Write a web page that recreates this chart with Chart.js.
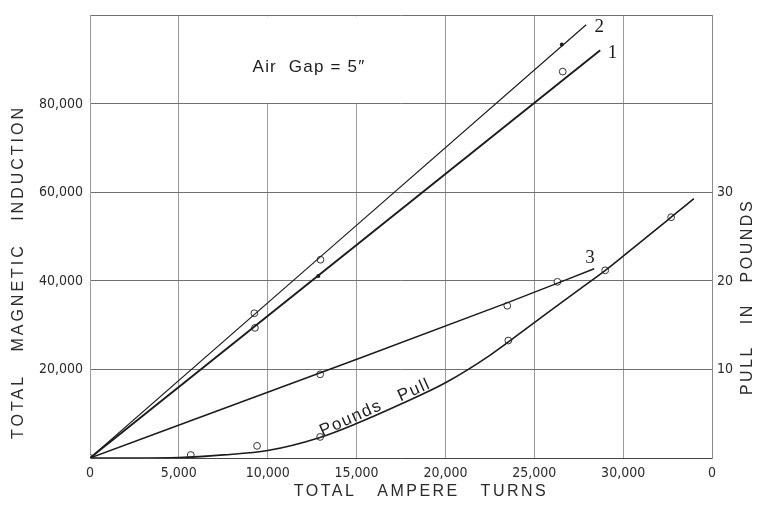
<!DOCTYPE html>
<html>
<head>
<meta charset="utf-8">
<script src="https://cdn.jsdelivr.net/npm/chart.js@4.4.1/dist/chart.umd.min.js"></script>
<style>
  html, body { margin: 0; padding: 0; background: #ffffff; }
  #wrap { width: 757px; height: 506px; }
</style>
</head>
<body>
<div id="wrap"><canvas id="c" width="757" height="506"></canvas></div>
<script>
// Axis ticks
const xTickValues = [0, 5000, 10000, 15000, 20000, 25000, 30000, 35000];
const xTickLabels = ['0', '5,000', '10,000', '15,000', '20,000', '25,000', '30,000', '0'];
const yTickValues = [0, 20000, 40000, 60000, 80000, 100000];
const yTickLabels = ['', '20,000', '40,000', '60,000', '80,000', ''];
const pullTickValues = [10, 20, 30];
const pullTickLabels = ['10', '20', '30'];

// Curve 1: total induction vs ampere turns (drawn line and observations)
const curve1X = [0, 28710];
const curve1Y = [0, 92100];
const obs1X = [0, 9280, 26600];
const obs1Y = [0, 29400, 87300];

// Curve 2
const curve2X = [0, 27920];
const curve2Y = [0, 97900];
const obs2X = [9250, 12970];
const obs2Y = [32700, 44800];

// Solid dots on curves 1 and 2
const dotX = [12850, 26550];
const dotY = [41100, 93450];

// Curve 3
const curve3X = [0, 13000, 23500, 28370];
const curve3Y = [0, 19300, 35100, 42770];
const obs3X = [12950, 23480, 26300];
const obs3Y = [18900, 34400, 39800];

// Pull in pounds
const pullX = [0, 2500, 5000, 7500, 10000, 12900, 15000, 17500, 20000, 22500, 25000, 27500, 29000, 30000, 32700, 33980];
const pullLb = [0, 0, 0.05, 0.35, 0.85, 2.3, 3.9, 6.1, 8.5, 11.6, 15.3, 19.0, 21.2, 22.8, 27.2, 29.3];
const obsPullX = [5670, 9400, 12950, 23540, 28990, 32700];
const obsPullLb = [0.34, 1.37, 2.38, 13.27, 21.2, 27.2];

const pts = (xs, ys) => xs.map((x, i) => ({ x: x, y: ys[i] }));

const INK = '#1c1c1c';
const tickFont = { family: '"DejaVu Sans Condensed", "Liberation Sans Narrow", "Liberation Sans", sans-serif', size: 14 };

function lineSet(data, width, axis) {
  return {
    data: data, yAxisID: axis || 'y', showLine: true,
    borderColor: INK, borderWidth: width, pointRadius: 0,
    cubicInterpolationMode: 'monotone', fill: false
  };
}
function ringSet(data, axis) {
  return {
    data: data, yAxisID: axis || 'y', showLine: false,
    pointRadius: 3.4, pointBorderWidth: 1, pointBorderColor: '#333',
    pointBackgroundColor: '#ffffff'
  };
}

// White panel behind the air-gap note
const notePanel = {
  id: 'notePanel',
  beforeDatasetsDraw(chart, args, o) {
    const x = chart.scales.x, y = chart.scales.y, ctx = chart.ctx;
    const l = x.getPixelForValue(o.x0) + 1, r = x.getPixelForValue(o.x1) - 1;
    const t = y.getPixelForValue(o.y1) + 1, b = y.getPixelForValue(o.y0) - 1;
    ctx.save();
    ctx.fillStyle = '#ffffff';
    ctx.fillRect(l, t, r - l, b - t);
    ctx.restore();
  }
};

// Text placed in data coordinates (curve numbers, notes)
const chartText = {
  id: 'chartText',
  afterDraw(chart, args, o) {
    const ctx = chart.ctx;
    o.items.forEach(t => {
      const sx = chart.scales.x, sy = chart.scales[t.axis || 'y'];
      const px = sx.getPixelForValue(t.x), py = sy.getPixelForValue(t.y);
      ctx.save();
      ctx.font = t.font;
      ctx.fillStyle = INK;
      ctx.letterSpacing = (t.spacing || 0) + 'px';
      ctx.textAlign = t.align || 'center';
      ctx.textBaseline = 'middle';
      ctx.translate(px, py);
      ctx.rotate((t.rot || 0) * Math.PI / 180);
      ctx.fillText(t.text, 0, 0);
      ctx.restore();
    });
  }
};

// Letter-spaced axis titles
const axisTitles = {
  id: 'axisTitles',
  afterDraw(chart, args, o) {
    const ctx = chart.ctx;
    o.items.forEach(t => {
      ctx.save();
      ctx.font = o.font;
      ctx.fillStyle = '#2a2a2a';
      ctx.letterSpacing = (t.spacing || o.spacing) + 'px';
      ctx.textAlign = 'center';
      ctx.textBaseline = 'middle';
      ctx.translate(t.x, t.y);
      ctx.rotate(t.rot * Math.PI / 180);
      ctx.fillText(t.text, 0, 0);
      ctx.restore();
    });
  }
};

new Chart(document.getElementById('c'), {
  type: 'scatter',
  data: {
    datasets: [
      lineSet(pts(curve1X, curve1Y), 1.9),
      lineSet(pts(curve2X, curve2Y), 1.2),
      lineSet(pts(curve3X, curve3Y), 1.5),
      lineSet(pts(pullX, pullLb), 1.6, 'y2'),
      ringSet(pts(obs1X, obs1Y)),
      ringSet(pts(obs2X, obs2Y)),
      ringSet(pts(obs3X, obs3Y)),
      ringSet(pts(obsPullX, obsPullLb), 'y2'),
      { data: pts(dotX, dotY), yAxisID: 'y', showLine: false, pointRadius: 2,
        pointBorderWidth: 0, pointBackgroundColor: INK }
    ]
  },
  options: {
    responsive: false,
    devicePixelRatio: 1,
    animation: false,
    layout: { padding: { top: 11, left: 0, right: 0, bottom: 0 } },
    plugins: {
      legend: { display: false },
      tooltip: { enabled: false },
      notePanel: { x0: 5000, x1: 20000, y0: 80000, y1: 100000 },
      chartText: {
        items: [
          { text: 'Air  Gap = 5\u2033', x: 9150, y: 88300, align: 'left',
            font: '17px "Liberation Sans", sans-serif', spacing: 1.2 },
          { text: '1', x: 29400, y: 91400, font: '19px "Liberation Serif", serif' },
          { text: '2', x: 28650, y: 97300, font: '19px "Liberation Serif", serif' },
          { text: '3', x: 28130, y: 45200, font: '19px "Liberation Serif", serif' },
          { text: 'Pounds   Pull', x: 16050, y: 11400, rot: -24,
            font: '17px "Liberation Sans", sans-serif', spacing: 1.5 }
        ]
      },
      axisTitles: {
        font: '16px "Liberation Sans", sans-serif',
        spacing: 2.5,
        items: [
          { text: 'TOTAL   AMPERE   TURNS', x: 421, y: 492, rot: 0 },
          { text: 'TOTAL   MAGNETIC   INDUCTION', x: 19, y: 272, rot: -90, spacing: 3 },
          { text: 'PULL   IN   POUNDS', x: 748, y: 297, rot: -90 }
        ]
      }
    },
    scales: {
      x: {
        type: 'linear', min: 0, max: 35000,
        afterBuildTicks: s => { s.ticks = xTickValues.map(v => ({ value: v })); },
        afterFit: s => { s.height = 48; },
        ticks: {
          callback: (v, i) => xTickLabels[i],
          font: tickFont, color: '#2a2a2a', padding: 7,
          autoSkip: false, maxRotation: 0
        },
        grid: { color: '#9a9a9a', lineWidth: 1, drawTicks: false },
        border: { display: true, color: '#444', width: 1 }
      },
      y: {
        type: 'linear', position: 'left', min: 0, max: 100000,
        afterBuildTicks: s => { s.ticks = yTickValues.map(v => ({ value: v })); },
        afterFit: s => { s.width = 90; },
        ticks: {
          callback: (v, i) => yTickLabels[i],
          font: tickFont, color: '#2a2a2a', padding: 7
        },
        grid: { color: '#707070', lineWidth: 1, drawTicks: false },
        border: { display: true, color: '#9a9a9a', width: 1 }
      },
      y2: {
        type: 'linear', position: 'right', min: 0, max: 50,
        afterBuildTicks: s => { s.ticks = pullTickValues.map(v => ({ value: v })); },
        afterFit: s => { s.width = 45; },
        ticks: {
          callback: (v, i) => pullTickLabels[i],
          font: tickFont, color: '#2a2a2a', padding: 5
        },
        grid: { display: false, drawTicks: false },
        border: { display: true, color: '#8a8a8a', width: 1 }
      }
    }
  },
  plugins: [notePanel, chartText, axisTitles]
});
</script>
</body>
</html>
